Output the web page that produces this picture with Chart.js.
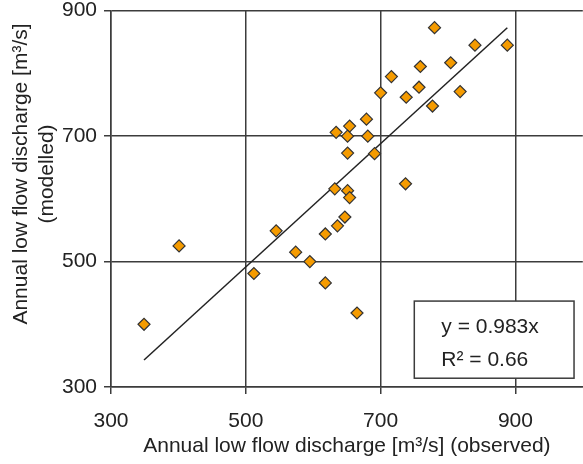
<!DOCTYPE html>
<html>
<head>
<meta charset="utf-8">
<script src="https://cdn.jsdelivr.net/npm/chart.js@4.4.1/dist/chart.umd.min.js"></script>
<style>
    html, body { margin: 0; padding: 0; background: #fff; overflow: hidden; }
    #wrap { position: relative; width: 590px; height: 464px; }
</style>
</head>
<body>
<div id="wrap"><canvas id="lowFlowChart"></canvas></div>
<script>
// Annual low flow discharge, observed vs modelled [m3/s]
const observed = [780, 840, 888, 759, 804, 716, 700, 757, 738, 818, 777,
                  679, 654, 634, 651, 681, 651, 691, 737, 632, 651, 654,
                  647, 636, 618, 545, 574, 595, 512, 618, 665, 401, 349];
const modelled = [873, 845, 845, 811, 817, 795, 769, 778, 762, 771, 748,
                  727, 716, 706, 700, 700, 673, 672, 624, 616, 613, 602,
                  571, 557, 544, 549, 515, 500, 481, 466, 418, 525, 400];
const xTicks = [300, 500, 700, 900];
const yTicks = [300, 500, 700, 900];

// regression through origin
const slope = 0.983;
const fitText = 'y = 0.983x';
const r2Text = 'R² = 0.66';
const yTitle = ['Annual low flow discharge [m³/s]', '(modelled)'];

const FONT = '"Liberation Sans", Arial, sans-serif';
const TEXT_COLOR = '#222';
const GRID_COLOR = '#3c3c3c';

const points = observed.map((v, i) => ({ x: v, y: modelled[i] }));
const xMin = Math.min(...observed);
const xMax = Math.max(...observed);
const trend = [{ x: xMin, y: slope * xMin }, { x: xMax, y: slope * xMax }];

// white box with the equation
const fitBoxPlugin = {
    id: 'fitBox',
    afterDatasetsDraw(chart) {
        const { ctx, scales: { x, y } } = chart;
        const left = x.getPixelForValue(750);
        const right = x.getPixelForValue(987);
        const top = y.getPixelForValue(437);
        const bottom = y.getPixelForValue(314);
        ctx.save();
        ctx.fillStyle = '#fff';
        ctx.fillRect(left, top, right - left, bottom - top);
        ctx.strokeStyle = GRID_COLOR;
        ctx.lineWidth = 1.5;
        ctx.strokeRect(left, top, right - left, bottom - top);
        ctx.fillStyle = TEXT_COLOR;
        ctx.font = '21px ' + FONT;
        ctx.textBaseline = 'alphabetic';
        ctx.fillText(fitText, left + 27, top + 32);
        ctx.fillText(r2Text, left + 27, top + 65);
        ctx.restore();
    }
};

// y title sits a bit above the middle of the axis, so draw it by hand
const yTitlePlugin = {
    id: 'yTitle',
    afterDraw(chart) {
        const c = chart.ctx;
        c.save();
        c.fillStyle = TEXT_COLOR;
        c.font = '21px ' + FONT;
        c.textAlign = 'center';
        c.textBaseline = 'middle';
        c.translate(21, 174);
        c.rotate(-Math.PI / 2);
        yTitle.forEach((line, i) => c.fillText(line, 0, i * 26));
        c.restore();
    }
};

const ctx = document.getElementById('lowFlowChart').getContext('2d');

new Chart(ctx, {
    type: 'scatter',
    data: {
        datasets: [
            {
                label: 'Years',
                data: points,
                pointStyle: 'rectRot',
                pointRadius: 6,
                backgroundColor: '#f59b00',
                borderColor: '#333',
                borderWidth: 1.2,
                order: 1
            },
            {
                type: 'line',
                label: 'Fit',
                data: trend,
                borderColor: '#222',
                borderWidth: 1.5,
                pointRadius: 0,
                fill: false,
                order: 2
            }
        ]
    },
    options: {
        responsive: true,
        maintainAspectRatio: false,
        animation: false,
        layout: {
            padding: { left: 0, right: 5, top: 0, bottom: 0 }
        },
        plugins: {
            legend: { display: false },
            tooltip: { enabled: false }
        },
        scales: {
            x: {
                type: 'linear',
                min: 300,
                max: 1000,
                afterBuildTicks: (s) => { s.ticks = xTicks.map(v => ({ value: v })); },
                afterFit: (s) => { s.height = 77; },
                grid: { color: GRID_COLOR, lineWidth: 1.5, tickLength: 7 },
                border: { color: GRID_COLOR, width: 1.5 },
                ticks: {
                    color: TEXT_COLOR,
                    padding: 17,
                    maxRotation: 0,
                    font: { family: FONT, size: 21, lineHeight: 1 }
                },
                title: {
                    display: true,
                    text: 'Annual low flow discharge [m³/s] (observed)',
                    color: TEXT_COLOR,
                    font: { family: FONT, size: 21 },
                    padding: { top: 0, bottom: 5 }
                }
            },
            y: {
                type: 'linear',
                min: 300,
                max: 900,
                afterBuildTicks: (s) => { s.ticks = yTicks.map(v => ({ value: v })); },
                afterFit: (s) => { s.width = 111; s.paddingTop = 10.7; },
                grid: { color: GRID_COLOR, lineWidth: 1.5, tickLength: 7 },
                border: { color: GRID_COLOR, width: 1.5 },
                ticks: {
                    color: TEXT_COLOR,
                    padding: 7,
                    font: { family: FONT, size: 21, lineHeight: 1 }
                },
                title: { display: false }
            }
        }
    },
    plugins: [fitBoxPlugin, yTitlePlugin]
});
</script>
</body>
</html>
